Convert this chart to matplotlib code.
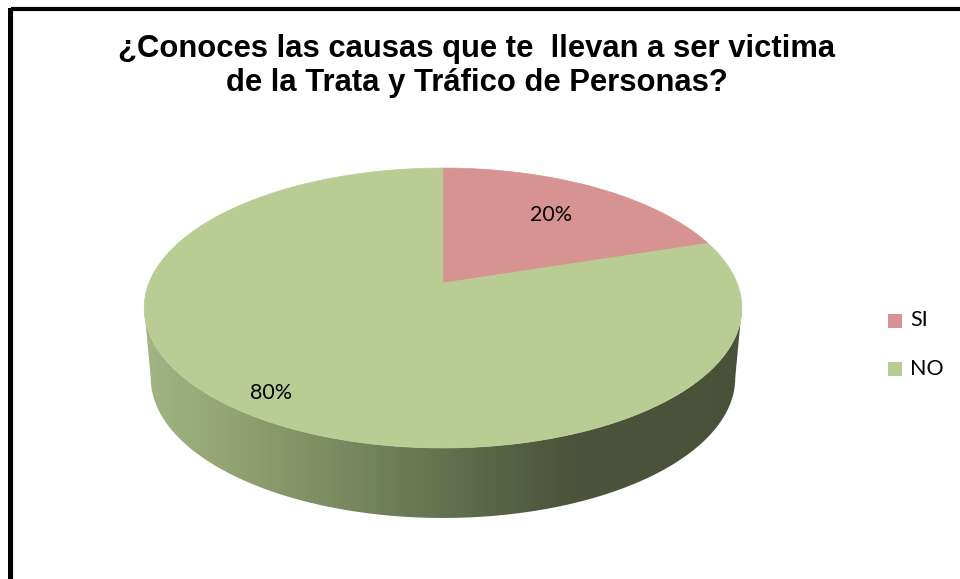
import numpy as np
import matplotlib
matplotlib.use("Agg")
import matplotlib.pyplot as plt
from matplotlib.patches import Polygon, Rectangle
from matplotlib.colors import LinearSegmentedColormap

# ---------------- data ----------------
title = "¿Conoces las causas que te  llevan a ser victima\nde la Trata y Tráfico de Personas?"
categories = ["SI", "NO"]
values = [20, 80]
pct_labels = ["20%", "80%"]
colors = ["#D79391", "#B9CC94"]

# ---------------- figure ----------------
W, H = 960, 579
fig = plt.figure(figsize=(W / 100, H / 100), dpi=100)
ax = fig.add_axes([0, 0, 1, 1])
ax.set_xlim(0, W)
ax.set_ylim(H, 0)
ax.axis("off")

# frame (extends beyond the right/bottom edges of the picture)
ax.add_patch(Rectangle((10.5, 9), W + 20, H + 20, fill=False, ec="black", lw=3.0,
                       zorder=1))
ax.add_patch(Rectangle((8, 7.8), 5, H, fc="black", ec="none", zorder=1))

# perspective disc geometry
cx, cy = 443, 283          # projected centre of the top face
a, b, c = 135.5, 0.1786, 294
depth = 70


def proj(u, v, dy=0.0, sx=1.0):
    d = 1 + b * v
    return cx + c * sx * u / d, cy - a * v / d + dy


# side (visible front part) with horizontal gradient
t_r = np.arccos(-b)
t_l = 2 * np.pi - t_r
th = np.linspace(t_r, t_l, 300)
top_x, top_y = proj(np.sin(th), np.cos(th))
bot_x, bot_y = proj(np.sin(th), np.cos(th), dy=depth, sx=0.978)
side_pts = np.column_stack([np.r_[top_x, bot_x[::-1]], np.r_[top_y, bot_y[::-1]]])
side = Polygon(side_pts, closed=True, fc="none", ec="none")
ax.add_patch(side)

grad = LinearSegmentedColormap.from_list(
    "side",
    [(0.0, (0.64, 0.71, 0.52)), (0.18, (0.56, 0.62, 0.43)), (0.42, (0.43, 0.49, 0.34)),
     (0.70, (0.30, 0.33, 0.23)), (1.0, (0.29, 0.32, 0.225))])
xmin, xmax = side_pts[:, 0].min(), side_pts[:, 0].max()
ymin, ymax = side_pts[:, 1].min(), side_pts[:, 1].max()
img = ax.imshow(np.linspace(0, 1, 256)[None, :], cmap=grad, aspect="auto",
                extent=[xmin, xmax, ymax, ymin], zorder=2, interpolation="bicubic")
img.set_clip_path(side)

# top face slices (clockwise from 12 o'clock)
total = float(sum(values))
start = 0.0
label_r = [0.69, 0.87]
for i, (val, col) in enumerate(zip(values, colors)):
    span = 2 * np.pi * val / total
    tt = np.linspace(start, start + span, 300)
    px, py = proj(np.sin(tt), np.cos(tt))
    pts = np.column_stack([np.r_[cx, px], np.r_[cy, py]])
    ax.add_patch(Polygon(pts, closed=True, fc=col, ec=col, lw=0.5, zorder=3))
    mid = start + span / 2
    lx, ly = proj(label_r[i] * np.sin(mid), label_r[i] * np.cos(mid))
    ax.text(lx, ly + 1, pct_labels[i], ha="center", va="center", fontsize=15.5,
            family="Lato", color="black", zorder=5)
    start += span

# title
ax.text(477, 66, title, ha="center", va="center", fontsize=22.3, fontweight="bold",
        family="Liberation Sans", linespacing=1.2, color="black", zorder=5)

# legend
for i, (cat, col) in enumerate(zip(categories, colors)):
    yy = 320.5 + i * 48.5
    ax.add_patch(Rectangle((888, yy - 7), 14, 14, fc=col, ec="none", zorder=5))
    ax.text(910, yy, cat, ha="left", va="center", fontsize=15.5, family="Lato",
            color="black", zorder=5)

fig.savefig("out.png", dpi=100)
